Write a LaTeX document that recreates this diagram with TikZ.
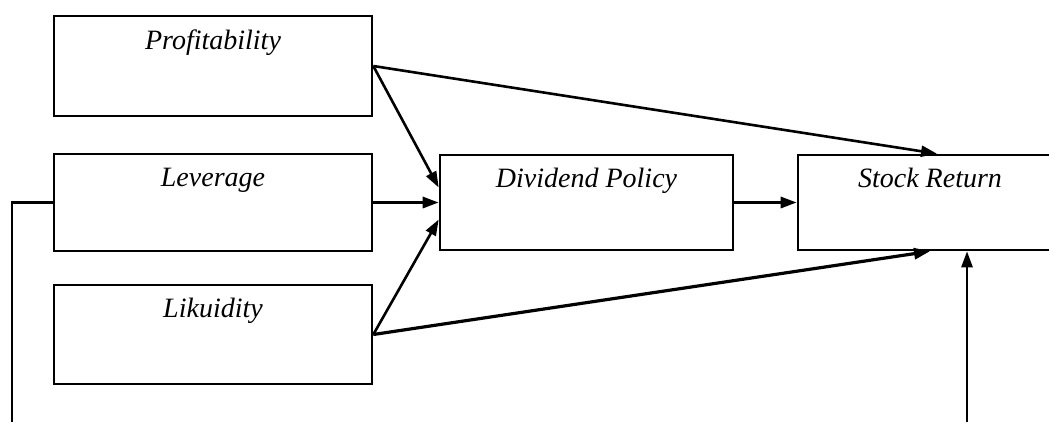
\documentclass[tikz,border=0pt]{standalone}
\usepackage{fontspec}
\setmainfont{Liberation Serif}
\usetikzlibrary{arrows.meta}
\tikzset{
  box/.style={draw=black, line width=2.6pt, minimum width=#1, inner sep=0pt},
  lbl/.style={anchor=base, font=\fontsize{28}{32}\selectfont\itshape, inner sep=0pt},
  arr/.style={line width=2.6pt, -{Triangle[length=16pt,width=11pt]}},
  wire/.style={line width=2.6pt},
}
\begin{document}
\begin{tikzpicture}[x=1pt,y=-1pt]
\useasboundingbox (0,0) rectangle (1049,421);
% input boxes
\node[box=318pt, minimum height=100pt] (prof) at (213,66) {};
\node[box=318pt, minimum height=97pt] (lev) at (213,202.5) {};
\node[box=318pt, minimum height=99pt] (lik) at (213,334.5) {};
% mediator and outcome
\node[box=293pt, minimum height=95pt] (div) at (586.5,202.5) {};
\node[box=264pt, minimum height=95pt] (sr) at (930,202.5) {};
% labels
\node[lbl] (tprof) at ([yshift=-35pt]prof.north) {Profitability};
\node[lbl] (tlev) at ([yshift=-34pt]lev.north) {Leverage};
\node[lbl] (tlik) at ([yshift=-34pt]lik.north) {Likuidity};
\node[lbl] (tdiv) at ([yshift=-34pt]div.north) {Dividend Policy};
\node[lbl] (tsr) at ([yshift=-34pt]sr.north) {Stock Return};
% paths
\draw[arr] (prof.east) -- ([yshift=15pt]div.west);
\draw[arr] (prof.east) -- ([xshift=7pt]sr.north);
\draw[arr, line width=3pt] (lev.east) -- (div.west);
\draw[arr] (lik.east) -- ([yshift=-17pt]div.west);
\draw[arr, line width=3.2pt] (lik.east) -- (sr.south);
\draw[arr, line width=3pt] (div.east) -- (sr.west);
% outer loop lines
\coordinate (lbot) at (12,425);
\coordinate (rbot) at (967,425);
\draw[wire] (lev.west) -| (lbot);
\draw[arr] (rbot) -- (rbot |- sr.south);
\end{tikzpicture}
\end{document}
